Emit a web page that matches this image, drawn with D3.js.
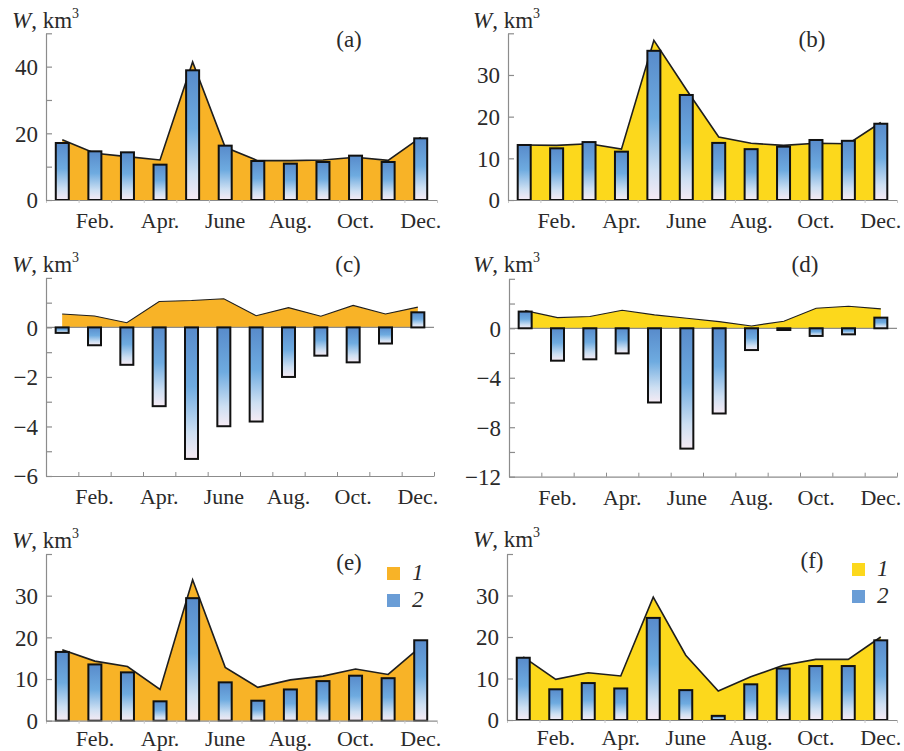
<!DOCTYPE html>
<html>
<head>
<meta charset="utf-8">
<script src="https://cdn.jsdelivr.net/npm/d3@7"></script>
<style>
  html, body { margin: 0; padding: 0; background: #fff; }
  svg { display: block; }
</style>
</head>
<body>
<svg id="chart" width="904" height="751"></svg>
<script>
// Month axis labels (every other month is labelled)
const monthLabels = ["", "Feb.", "", "Apr.", "", "June", "", "Aug.", "", "Oct.", "", "Dec."];

// Series 1 (filled area) and series 2 (bars), km^3, per month
const areaA = [18.1, 14.0, 13.0, 12.0, 41.4, 15.8, 11.8, 11.8, 12.0, 12.8, 11.9, 18.8];
const barsA = [17.1, 14.6, 14.3, 10.6, 38.9, 16.3, 11.7, 10.9, 11.4, 13.3, 11.4, 18.5];

const areaB = [13.2, 13.1, 13.5, 12.2, 38.3, 26.5, 15.1, 13.6, 13.1, 13.6, 13.5, 18.6];
const barsB = [13.2, 12.4, 13.9, 11.6, 35.8, 25.2, 13.7, 12.2, 12.8, 14.4, 14.2, 18.3];

const areaC = [0.54, 0.46, 0.19, 1.05, 1.09, 1.16, 0.47, 0.80, 0.45, 0.89, 0.54, 0.82];
const barsC = [-0.22, -0.72, -1.51, -3.18, -5.31, -3.99, -3.80, -2.00, -1.14, -1.41, -0.65, 0.61];

const areaD = [1.43, 0.86, 0.95, 1.46, 1.08, 0.81, 0.54, 0.19, 0.57, 1.62, 1.78, 1.57];
const barsD = [1.35, -2.62, -2.51, -2.03, -6.0, -9.73, -6.89, -1.76, -0.14, -0.62, -0.49, 0.86];

const areaE = [17.0, 14.3, 13.0, 7.5, 33.8, 12.8, 8.0, 9.8, 10.7, 12.4, 11.1, 17.8];
const barsE = [16.5, 13.5, 11.6, 4.65, 29.4, 9.2, 4.8, 7.5, 9.5, 10.8, 10.2, 19.3];

const areaF = [15.2, 9.8, 11.4, 10.6, 29.6, 15.6, 7.0, 10.4, 13.2, 14.6, 14.6, 20.0];
const barsF = [15.0, 7.4, 8.9, 7.6, 24.6, 7.2, 1.0, 8.6, 12.4, 13.0, 13.0, 19.2];

// Y axis tick values per panel
const ticksA = [0, 20, 40],  minorA = [10, 30, 50];
const ticksB = [0, 10, 20, 30], minorB = [40];
const ticksC = [0, -2, -4, -6], minorC = [2, 1, -1, -3, -5];
const ticksD = [0, -4, -8, -12], minorD = [4, 2, -2, -6, -10];
const ticksE = [0, 10, 20, 30], minorE = [40];
const ticksF = [0, 10, 20, 30], minorF = [40];

const panelTags = ["(a)", "(b)", "(c)", "(d)", "(e)", "(f)"];
const legendLabels = ["1", "2"];

const ORANGE = "#f8b327";
const YELLOW = "#fcd81c";
const BLUE = "#6a9dd6";
const AXIS = "#8c8c8c";
const INK = "#2a2a2a";
const FONT = "Liberation Serif";

const svg = d3.select("#chart");
const defs = svg.append("defs");
const grad = defs.append("linearGradient").attr("id", "barGrad")
  .attr("x1", 0).attr("y1", 0).attr("x2", 0).attr("y2", 1);
[[0, "#588bcb"], [0.45, "#6eabe0"], [0.8, "#cddff2"], [1, "#f6ebf4"]].forEach(([o, c]) =>
  grad.append("stop").attr("offset", o).attr("stop-color", c));

const fmt = v => (v < 0 ? "\u2212" + Math.abs(v) : String(v));

// serif text styling applied straight onto each text node
function serif(sel, size) {
  return sel.attr("font-family", FONT).style("font-family", FONT)
    .attr("font-size", size).style("font-size", size + "px")
    .attr("fill", INK);
}

function panel(o) {
  const g = svg.append("g");
  const x = d3.scaleBand().domain(d3.range(12)).range([o.x0, o.x1]);
  const xEdge = d3.scaleLinear().domain([0, 12]).range([o.x0, o.x1]);
  const y = d3.scaleLinear().domain(o.domain).range([o.yBottom, o.yTop]);
  const cx = i => x(i) + x.bandwidth() / 2;
  const barW = 13;
  const negative = o.domain[0] < 0;

  // filled area (series 1)
  g.append("path").datum(o.area)
    .attr("fill", o.fill)
    .attr("d", d3.area().x((d, i) => cx(i)).y0(y(0)).y1(d => y(d)));
  g.append("path").datum(o.area)
    .attr("fill", "none").attr("stroke", "#1e1e1e")
    .attr("stroke-width", o.thinLine ? 1.1 : 1.6)
    .attr("d", d3.line().x((d, i) => cx(i)).y(d => y(d)));

  // zero line when the axis floor is negative
  if (negative) {
    g.append("line").attr("x1", o.x0).attr("x2", o.x1)
      .attr("y1", y(0)).attr("y2", y(0))
      .attr("stroke", AXIS).attr("stroke-width", 1.2);
  }

  // bars (series 2)
  g.selectAll("rect.bar").data(o.bars).join("rect").attr("class", "bar")
    .attr("x", (d, i) => cx(i) - barW / 2)
    .attr("y", d => y(Math.max(0, d)))
    .attr("width", barW)
    .attr("height", d => Math.max(0.5, Math.abs(y(d) - y(0))))
    .attr("fill", "url(#barGrad)")
    .attr("stroke", "#111").attr("stroke-width", 2);

  // x axis: line + tick marks at month boundaries
  const xAxisG = g.append("g").attr("transform", `translate(0,${o.yBottom})`)
    .call((negative ? d3.axisTop(xEdge).tickSize(4) : d3.axisBottom(xEdge).tickSize(3))
      .tickValues(d3.range(13)).tickFormat("").tickSizeOuter(0));
  xAxisG.select(".domain").attr("stroke", AXIS).attr("stroke-width", 1.2);
  xAxisG.selectAll(".tick line").attr("stroke", negative ? AXIS : "#c8c8c8");

  // month labels
  const lab = g.append("g").attr("transform", `translate(0,${o.yBottom + o.labelGap})`)
    .call(d3.axisBottom(x).tickSize(0).tickPadding(0).tickFormat(i => monthLabels[i]));
  lab.attr("font-family", FONT);
  lab.select(".domain").remove();
  serif(lab.selectAll("text"), 22).attr("dy", 0);

  // y axis: line + inward ticks
  const yTicks = g.append("g").attr("transform", `translate(${o.x0},0)`)
    .call(d3.axisRight(y).tickValues(o.ticks.concat(o.minor)).tickSize(6)
      .tickFormat("").tickSizeOuter(0));
  yTicks.select(".domain").attr("stroke", AXIS).attr("stroke-width", 1.2);
  yTicks.selectAll(".tick line").attr("stroke", AXIS).attr("stroke-width", 1.2);

  // y labels
  const yLab = g.append("g").attr("transform", `translate(${o.x0 - 8},0)`)
    .call(d3.axisLeft(y).tickValues(o.ticks).tickSize(0).tickPadding(0).tickFormat(fmt));
  yLab.attr("font-family", FONT);
  yLab.select(".domain").remove();
  serif(yLab.selectAll("text"), 23).attr("dy", "0.34em");

  // axis title W, km^3
  const t = serif(g.append("text"), 23).attr("x", o.titleX).attr("y", o.titleY);
  t.append("tspan").attr("font-style", "italic").text("W");
  t.append("tspan").text(", km");
  t.append("tspan").attr("font-size", 14).style("font-size", "14px").attr("dy", -10).text("3");

  // panel tag
  serif(g.append("text"), 23).attr("x", o.tagX).attr("y", o.tagY)
    .attr("text-anchor", "middle").text(o.tag);

  // legend
  if (o.legend) {
    const lg = g.append("g").attr("transform", `translate(${o.legend[0]},${o.legend[1]})`);
    [o.fill, BLUE].forEach((c, k) => {
      lg.append("rect").attr("x", 0).attr("y", k * 27).attr("width", 13).attr("height", 13).attr("fill", c);
      serif(lg.append("text"), 23).attr("x", 25).attr("y", k * 27 + 13)
        .attr("font-style", "italic").text(legendLabels[k]);
    });
  }
}

panel({ x0: 46, x1: 437, yBottom: 200, yTop: 33.3, domain: [0, 50], area: areaA, bars: barsA,
  fill: ORANGE, ticks: ticksA, minor: minorA, tag: panelTags[0], tagX: 349, tagY: 47,
  titleX: 12, titleY: 28, labelGap: 28 });
panel({ x0: 508, x1: 897, yBottom: 200, yTop: 33.3, domain: [0, 40], area: areaB, bars: barsB,
  fill: YELLOW, ticks: ticksB, minor: minorB, tag: panelTags[1], tagX: 812, tagY: 47,
  titleX: 473, titleY: 28, labelGap: 28 });
panel({ x0: 46, x1: 434, yBottom: 476, yTop: 277.9, domain: [-6, 2], area: areaC, bars: barsC,
  fill: ORANGE, ticks: ticksC, minor: minorC, tag: panelTags[2], tagX: 348, tagY: 272,
  titleX: 12, titleY: 272, labelGap: 28, thinLine: true });
panel({ x0: 509, x1: 897, yBottom: 476.7, yTop: 278.8, domain: [-12, 4], area: areaD, bars: barsD,
  fill: YELLOW, ticks: ticksD, minor: minorD, tag: panelTags[3], tagX: 805, tagY: 272,
  titleX: 473, titleY: 272, labelGap: 28, thinLine: true });
panel({ x0: 46, x1: 437, yBottom: 720.7, yTop: 554, domain: [0, 40], area: areaE, bars: barsE,
  fill: ORANGE, ticks: ticksE, minor: minorE, tag: panelTags[4], tagX: 349, tagY: 570,
  titleX: 12, titleY: 548, labelGap: 25, legend: [387, 567] });
panel({ x0: 507, x1: 897, yBottom: 720, yTop: 554, domain: [0, 40], area: areaF, bars: barsF,
  fill: YELLOW, ticks: ticksF, minor: minorF, tag: panelTags[5], tagX: 812, tagY: 568,
  titleX: 473, titleY: 547, labelGap: 25, legend: [852, 563] });
</script>
</body>
</html>
